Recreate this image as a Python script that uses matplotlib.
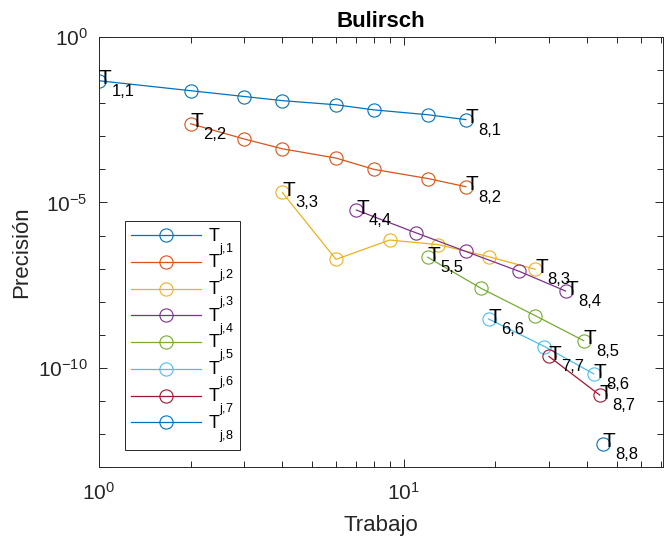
import matplotlib
matplotlib.use('Agg')
import matplotlib.pyplot as plt
from matplotlib import _mathtext
from matplotlib.ticker import FixedLocator, LogFormatterMathtext, NullFormatter

plt.rcParams['font.family'] = ['Liberation Sans', 'DejaVu Sans']
plt.rcParams['mathtext.fontset'] = 'custom'
plt.rcParams['mathtext.rm'] = 'Liberation Sans'
plt.rcParams['mathtext.it'] = 'Liberation Sans:italic'
plt.rcParams['mathtext.bf'] = 'Liberation Sans:bold'
plt.rcParams['mathtext.default'] = 'regular'
# drop subscripts lower, TeX-interpreter style (used by the legend)
_mathtext.FontConstantsBase.sub1 = 1.1

# work (function evaluations) and error for every column T_{j,k}, j = k..8
trabajo_1 = [1, 2, 3, 4, 6, 8, 12, 16]
precision_1 = [4.8e-2, 2.4e-2, 1.6e-2, 1.2e-2, 9.0e-3, 6.3e-3, 4.5e-3, 3.2e-3]
trabajo_2 = [2, 3, 4, 6, 8, 12, 16]
precision_2 = [2.4e-3, 8.3e-4, 4.2e-4, 2.2e-4, 1.0e-4, 5.3e-5, 3.0e-5]
trabajo_3 = [4, 6, 9, 13, 19, 27]
precision_3 = [2.0e-5, 1.9e-7, 7.3e-7, 5.3e-7, 2.3e-7, 9.6e-8]
trabajo_4 = [7, 11, 16, 24, 34]
precision_4 = [5.9e-6, 1.2e-6, 3.3e-7, 8.2e-8, 2.1e-8]
trabajo_5 = [12, 18, 27, 39]
precision_5 = [2.2e-7, 2.5e-8, 3.8e-9, 6.6e-10]
trabajo_6 = [19, 29, 42]
precision_6 = [3.0e-9, 4.4e-10, 6.6e-11]
trabajo_7 = [30, 44]
precision_7 = [2.2e-10, 1.5e-11]
trabajo_8 = [45]
precision_8 = [5.1e-13]

trabajos = [trabajo_1, trabajo_2, trabajo_3, trabajo_4,
            trabajo_5, trabajo_6, trabajo_7, trabajo_8]
precisiones = [precision_1, precision_2, precision_3, precision_4,
               precision_5, precision_6, precision_7, precision_8]

# MATLAB default colour order
COLORES = ['#0072BD', '#D95319', '#EDB120', '#7E2F8E',
           '#77AC30', '#4DBEEE', '#A2142F', '#0072BD']
GRIS = '#262626'


def etiqueta(ax, x, y, sub):
    """T with a dropped subscript, written next to the point (x, y)."""
    ax.annotate('T', (x, y), xytext=(0, -2.7), textcoords='offset points',
                fontsize=15, ha='left', va='baseline', color='black')
    ax.annotate(sub, (x, y), xytext=(9, -10.8), textcoords='offset points',
                fontsize=12, ha='left', va='baseline', color='black')


fig = plt.figure(figsize=(6.68, 5.38), dpi=100)
ax = fig.add_axes([0.148, 0.132, 0.8445, 0.799])

for k, (x, y) in enumerate(zip(trabajos, precisiones), start=1):
    color = COLORES[k - 1]
    ax.plot(x, y, '-o', color=color, lw=0.9, markersize=9.5,
            markerfacecolor='none', markeredgewidth=0.8,
            label=r'$T_{j{,}%d}$' % k)
    if k < 8:
        etiqueta(ax, x[0], y[0], '%d,%d' % (k, k))
    etiqueta(ax, x[-1], y[-1], '8,%d' % k)

ax.set_xscale('log')
ax.set_yscale('log')
ax.set_xlim(1, 71)
ax.set_ylim(1e-13, 1e0)

ax.xaxis.set_major_locator(FixedLocator([1, 10]))
ax.xaxis.set_minor_locator(FixedLocator([2, 3, 4, 5, 6, 7, 8, 9,
                                         20, 30, 40, 50, 60, 70]))
ax.yaxis.set_major_locator(FixedLocator([1e-10, 1e-5, 1e0]))
ax.yaxis.set_minor_locator(FixedLocator([10.0 ** e for e in range(-13, 0)]))
ax.xaxis.set_major_formatter(LogFormatterMathtext())
ax.yaxis.set_major_formatter(LogFormatterMathtext())
ax.xaxis.set_minor_formatter(NullFormatter())
ax.yaxis.set_minor_formatter(NullFormatter())

ax.tick_params(which='both', direction='in', top=True, right=True,
               colors=GRIS, labelsize=15, width=0.7)
ax.tick_params(which='major', length=6, pad=8)
ax.tick_params(axis='x', which='major', pad=11)
ax.tick_params(which='minor', length=4)
for spine in ax.spines.values():
    spine.set_color(GRIS)
    spine.set_linewidth(0.7)

ax.set_title('Bulirsch', fontsize=16, fontweight='bold', color='black', pad=7)
ax.set_xlabel('Trabajo', fontsize=16, color=GRIS, labelpad=8)
ax.set_ylabel('Precisión', fontsize=16, color=GRIS, labelpad=4)

leg = ax.legend(loc='upper left', bbox_to_anchor=(0.047, 0.572),
                borderaxespad=0, fontsize=13, handlelength=3.9,
                handletextpad=0.4, labelspacing=-0.25, borderpad=0.3,
                fancybox=False, framealpha=1)
leg.get_frame().set_edgecolor(GRIS)
leg.get_frame().set_linewidth(0.7)

fig.savefig('out.png', dpi=100)
